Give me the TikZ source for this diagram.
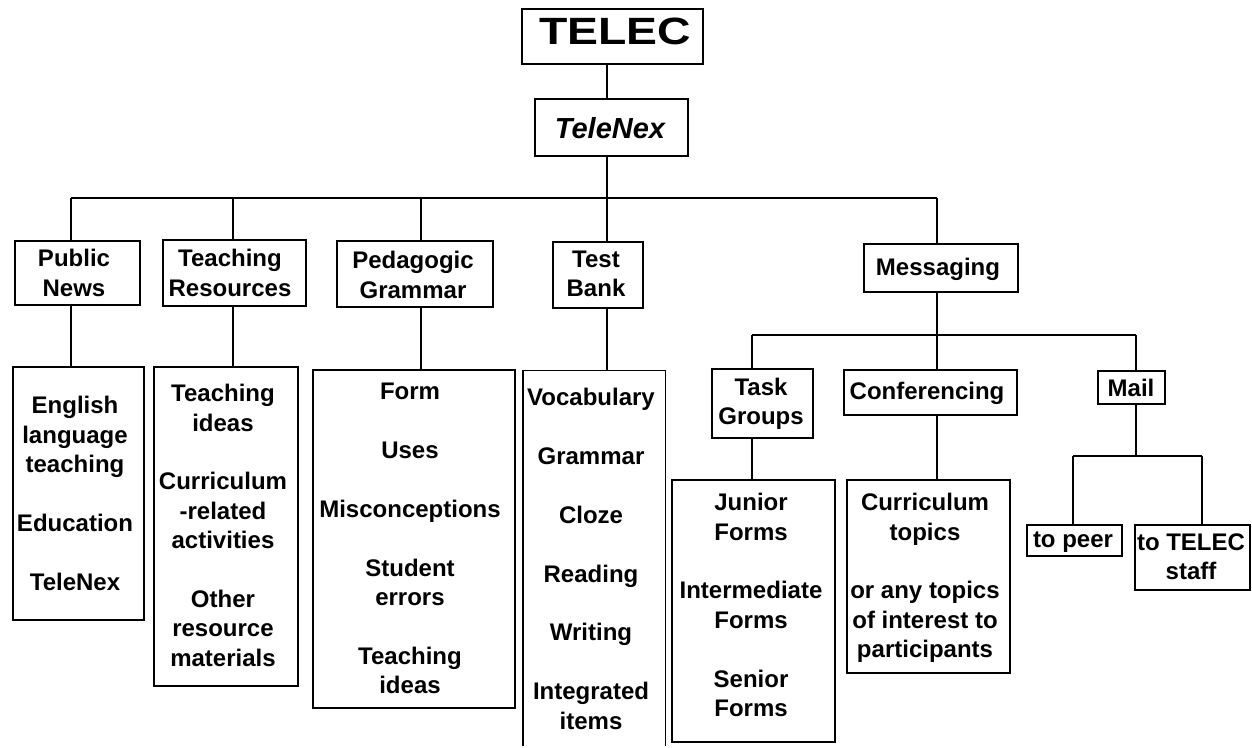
\documentclass[tikz,border=0pt]{standalone}
\usepackage{fontspec}
\usepackage{graphicx}
\setmainfont{Liberation Sans}
\usetikzlibrary{fit}
\tikzset{
  box/.style={draw, line width=0.9pt, inner sep=0pt},
  hidden/.style={inner sep=0pt},
  wire/.style={line width=0.9pt},
  lbl/.style={font=\fontsize{12}{14.7}\selectfont\bfseries, align=center, inner sep=0pt},
  lst/.style={lbl, anchor=north},
}
\newcommand{\gp}{\\[14.7pt]}
\begin{document}
\begin{tikzpicture}[x=0.5pt,y=-0.5pt]
\useasboundingbox[fill=white] (0,0) rectangle (1252,748);

% ---- top ----
\node[box, fit={(522,9) (703,64)}] (telec) {};
\node[hidden, font=\fontsize{19}{21}\selectfont\bfseries] (telecT) at (615,31) {\scalebox{1.22}[1]{TELEC}};
\node[box, fit={(535,99) (688,156)}] (telenex) {};
\node[hidden, font=\fontsize{14.5}{17}\selectfont\bfseries\itshape] (telenexT) at (610,128) {TeleNex};

% ---- level 2 ----
\node[box, fit={(15,241) (140,305)}] (pn) {};
\node[lbl] (pnT) at (74,273) {Public\\News};
\node[box, fit={(163,240) (306,306)}] (tr) {};
\node[lbl] (trT) at (230,273) {Teaching\\Resources};
\node[box, fit={(337,241) (493,307)}] (pg) {};
\node[lbl] (pgT) at (413,275) {Pedagogic\\Grammar};
\node[box, fit={(553,242) (643,308)}] (tb) {};
\node[lbl] (tbT) at (596,274) {Test\\Bank};
\node[box, fit={(864,244) (1018,292)}] (msg) {};
\node[lbl] (msgT) at (938,269) {Messaging};

% ---- level 3 lists ----
\node[box, fit={(13,367) (144,620)}] (pnl) {};
\node[lst] (pnlT) at (75,396) {English\\language\\teaching\gp Education\gp TeleNex};
\node[box, fit={(154,367) (298,686)}] (trl) {};
\node[lst] (trlT) at (223,384) {Teaching\\ideas\gp Curriculum\\-related\\activities\gp Other\\resource\\materials};
\node[box, fit={(313,370) (515,708)}] (pgl) {};
\node[lst] (pglT) at (410,383) {Form\gp Uses\gp Misconceptions\gp Student\\errors\gp Teaching\\ideas};
\node[hidden, fit={(523,371) (665,746)}] (tbl) {};
\draw[wire] (tbl.south west) -- (tbl.north west) -- (tbl.north east) -- (tbl.south east);
\node[lst] (tblT) at (591,388) {Vocabulary\gp Grammar\gp Cloze\gp Reading\gp Writing\gp Integrated\\items};

% ---- messaging subtree ----
\node[box, fit={(712,369) (813,438)}] (tg) {};
\node[lbl] (tgT) at (761,404) {Task\\Groups};
\node[box, fit={(844,370) (1017,415)}] (cf) {};
\node[lbl] (cfT) at (927,393) {Conferencing};
\node[box, fit={(1098,371) (1165,404)}] (mail) {};
\node[lbl] (mailT) at (1131,388) {Mail};

\node[box, fit={(672,480) (835,742)}] (tgl) {};
\node[lst] (tglT) at (751,493) {Junior\\Forms\gp Intermediate\\Forms\gp Senior\\Forms};
\node[box, fit={(847,480) (1010,673)}] (cfl) {};
\node[lst] (cflT) at (925,493) {Curriculum\\topics\gp or any topics\\of interest to\\participants};

\node[box, fit={(1027,525) (1122,556)}] (peer) {};
\node[lbl] (peerT) at (1073,542) {to peer};
\node[box, fit={(1135,525) (1250,590)}] (staff) {};
\node[lbl] (staffT) at (1191,557) {to TELEC\\staff};

% ---- junctions ----
\coordinate (b-tn) at (607,198);
\coordinate (b-pn) at (71,198);
\coordinate (b-tr) at (233,198);
\coordinate (b-pg) at (421,198);
\coordinate (b-msg) at (937,198);
\coordinate (s-tg) at (752,335);
\coordinate (s-msg) at (937,335);
\coordinate (s-mail) at (1136,335);
\coordinate (m-peer) at (1073,456);
\coordinate (m-staff) at (1202,456);

% ---- connectors ----
\draw[wire] (b-tn |- telec.south) -- (b-tn |- telenex.north);
\draw[wire] (b-tn |- telenex.south) -- (b-tn);
\draw[wire] (b-pn) -- (b-msg);
\draw[wire] (b-pn) -- (b-pn |- pn.north);
\draw[wire] (b-tr) -- (b-tr |- tr.north);
\draw[wire] (b-pg) -- (b-pg |- pg.north);
\draw[wire] (b-tn) -- (b-tn |- tb.north);
\draw[wire] (b-msg) -- (b-msg |- msg.north);

\draw[wire] (b-pn |- pn.south) -- (b-pn |- pnl.north);
\draw[wire] (b-tr |- tr.south) -- (b-tr |- trl.north);
\draw[wire] (b-pg |- pg.south) -- (b-pg |- pgl.north);
\draw[wire] (b-tn |- tb.south) -- (b-tn |- tbl.north);

\draw[wire] (s-msg |- msg.south) -- (s-msg);
\draw[wire] (s-tg) -- (s-mail);
\draw[wire] (s-tg) -- (s-tg |- tg.north);
\draw[wire] (s-msg) -- (s-msg |- cf.north);
\draw[wire] (s-mail) -- (s-mail |- mail.north);
\draw[wire] (s-tg |- tg.south) -- (s-tg |- tgl.north);
\draw[wire] (s-msg |- cf.south) -- (s-msg |- cfl.north);

\coordinate (m-mail) at (s-mail |- m-peer);
\draw[wire] (s-mail |- mail.south) -- (m-mail);
\draw[wire] (m-peer) -- (m-staff);
\draw[wire] (m-peer) -- (m-peer |- peer.north);
\draw[wire] (m-staff) -- (m-staff |- staff.north);
\end{tikzpicture}
\end{document}
